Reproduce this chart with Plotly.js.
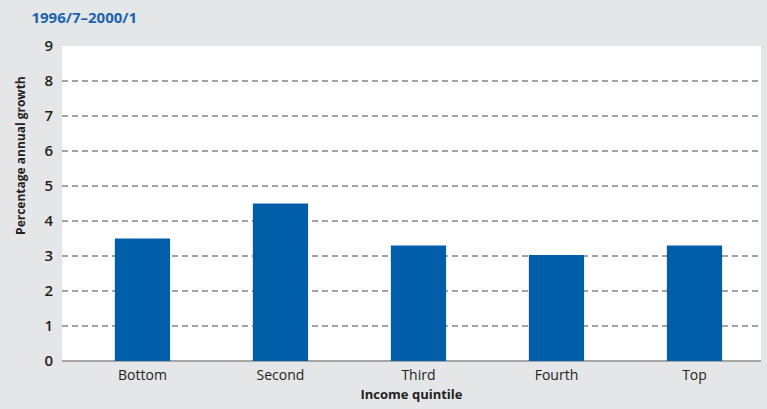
<!DOCTYPE html>
<html><head><meta charset="utf-8">
<script src="https://cdn.plot.ly/plotly-3.0.1.min.js"></script>
<style>html,body{margin:0;padding:0;background:#e5e6e8;}#c{width:767px;height:409px;}</style>
</head><body><div id="c"></div>
<script>
const categories = ["Bottom", "Second", "Third", "Fourth", "Top"];
const growth = [3.5, 4.5, 3.3, 3.03, 3.3];
const yTicks = [0, 1, 2, 3, 4, 5, 6, 7, 8, 9];
const periodLabel = "1996/7–2000/1";
const yTitle = "Percentage annual growth";
const xTitle = "Income quintile";
const FONT = "'Open Sans', sans-serif";

const data = [{
  type: "bar",
  x: categories,
  y: growth,
  width: 0.4,
  marker: {color: "#005da8"},
  hoverinfo: "skip"
}];
const layout = {
  width: 767, height: 409,
  paper_bgcolor: "#e5e6e8",
  plot_bgcolor: "#ffffff",
  margin: {l: 62, r: 6, t: 45.5, b: 47.5},
  showlegend: false,
  font: {family: FONT, color: "#231f20", size: 14},
  title: {text: "<b>" + periodLabel + "</b>", x: 0.041, xanchor: "left", y: 0.956, yanchor: "middle",
          font: {family: FONT, color: "#1a64ad", size: 15}},
  xaxis: {
    range: [-0.583, 4.482],
    showgrid: false, zeroline: false, showline: false, ticks: "",
    ticklabelstandoff: 4,
    tickfont: {size: 14, family: FONT, color: "#231f20"},
    title: {text: "<b>" + xTitle + "</b>", standoff: 6, font: {size: 13, family: FONT, color: "#231f20"}}
  },
  yaxis: {
    range: [0, 9], tickvals: yTicks, ticktext: yTicks.map(String),
    showgrid: true, gridcolor: "#a3a3a3", griddash: "6px,4px", gridwidth: 1.2,
    zeroline: true, zerolinecolor: "#a6a6a6", zerolinewidth: 2,
    ticks: "", ticklabelstandoff: 8,
    tickfont: {size: 15, family: FONT, color: "#231f20", weight: 600}
  },
  annotations: [{
    text: "<b>" + yTitle + "</b>", textangle: -90,
    xref: "paper", yref: "paper", x: -0.0597, y: 0.652,
    xanchor: "center", yanchor: "middle", showarrow: false,
    font: {size: 12, family: FONT, color: "#231f20"}
  }]
};
Plotly.newPlot("c", data, layout, {displayModeBar: false, staticPlot: true});
</script></body></html>
